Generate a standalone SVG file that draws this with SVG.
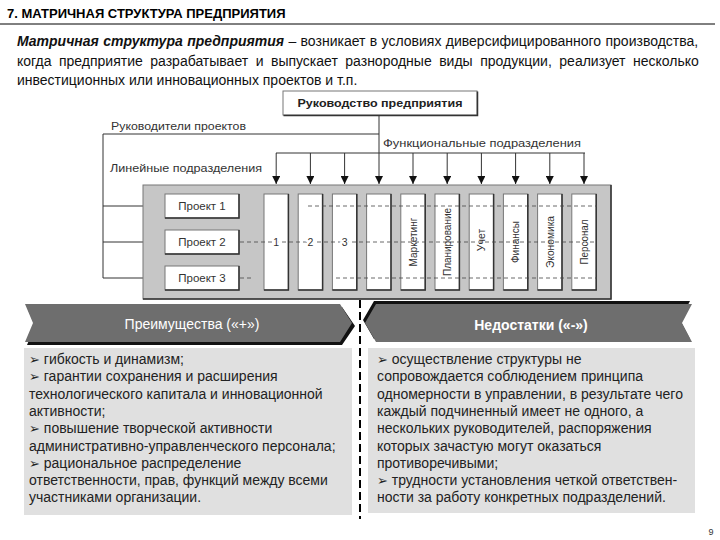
<svg xmlns="http://www.w3.org/2000/svg" width="720" height="540" viewBox="0 0 720 540">
<style>
text{font-family:"Liberation Sans",Arial,sans-serif;}
.title{font-size:13px;font-weight:bold;fill:#000;}
.para{font-size:14px;fill:#111;}
.lbl{font-size:11px;fill:#333;}
.proj{font-size:11.5px;fill:#333;}
.col{font-size:10.5px;fill:#333;}
.body{font-size:14px;fill:#222;}
.ban{font-size:14px;fill:#fff;}
.box{fill:#fff;stroke:#777;stroke-width:1;}
.shd{fill:none;stroke:#333;stroke-width:1.5;}
.ln{stroke:#333;stroke-width:1;fill:none;}
.dash{stroke:#444;stroke-width:0.8;stroke-dasharray:4 3;fill:none;}
.bul{font-family:"DejaVu Sans",sans-serif;font-size:13px;}
</style>
<defs>
<marker id="ah" markerUnits="userSpaceOnUse" markerWidth="8" markerHeight="8" refX="8" refY="4" orient="auto">
<path d="M0,0 L8,4 L0,8 Z" fill="#111"/>
</marker>
</defs>
<rect width="720" height="540" fill="#fff"/>

<g id="header">
<text class="title" x="7" y="18">7. МАТРИЧНАЯ СТРУКТУРА ПРЕДПРИЯТИЯ</text>
<line x1="0" y1="24" x2="715" y2="24" stroke="#000" stroke-width="1"/>
</g>

<g id="intro">
<text class="para" x="17" y="46" word-spacing="0.5"><tspan font-weight="bold" font-style="italic">Матричная структура предприятия</tspan> – возникает в условиях диверсифицированного производства,</text>
<text class="para" x="17" y="66" word-spacing="3.6">когда предприятие разрабатывает и выпускает разнородные виды продукции, реализует несколько</text>
<text class="para" x="17" y="85">инвестиционных или инновационных проектов и т.п.</text>
</g>

<g id="connectors">
<polyline class="ln" points="379,134 103,134 103,278"/>
<line class="ln" x1="379" y1="116" x2="379" y2="184" marker-end="url(#ah)"/>
<line class="ln" x1="276" y1="153" x2="585" y2="153"/>
<line class="ln" x1="276.2" y1="153" x2="276.2" y2="184" marker-end="url(#ah)"/>
<line class="ln" x1="310.4" y1="153" x2="310.4" y2="184" marker-end="url(#ah)"/>
<line class="ln" x1="344.6" y1="153" x2="344.6" y2="184" marker-end="url(#ah)"/>
<line class="ln" x1="413" y1="153" x2="413" y2="184" marker-end="url(#ah)"/>
<line class="ln" x1="447.2" y1="153" x2="447.2" y2="184" marker-end="url(#ah)"/>
<line class="ln" x1="481.4" y1="153" x2="481.4" y2="184" marker-end="url(#ah)"/>
<line class="ln" x1="515.6" y1="153" x2="515.6" y2="184" marker-end="url(#ah)"/>
<line class="ln" x1="549.8" y1="153" x2="549.8" y2="184" marker-end="url(#ah)"/>
<line class="ln" x1="584" y1="153" x2="584" y2="184" marker-end="url(#ah)"/>
<line class="ln" x1="103" y1="206" x2="164" y2="206" marker-end="url(#ah)"/>
<line class="ln" x1="103" y1="242" x2="164" y2="242" marker-end="url(#ah)"/>
<line class="ln" x1="103" y1="278" x2="164" y2="278" marker-end="url(#ah)"/>
</g>

<g id="top-box">
<rect class="box" x="283" y="91" width="194" height="24"/>
<polyline class="shd" points="477.5,91.5 477.5,115.5 283.5,115.5"/>
<text x="380" y="107" text-anchor="middle" font-size="11.5" font-weight="bold" fill="#222" textLength="165" lengthAdjust="spacingAndGlyphs">Руководство предприятия</text>
</g>

<g id="labels">
<text class="lbl" x="111" y="130" textLength="135" lengthAdjust="spacingAndGlyphs">Руководители проектов</text>
<text class="lbl" x="383" y="147" textLength="198" lengthAdjust="spacingAndGlyphs">Функциональные подразделения</text>
<text class="lbl" x="110" y="172" textLength="152" lengthAdjust="spacingAndGlyphs">Линейные подразделения</text>
</g>

<g id="matrix">
<rect x="143" y="185" width="468" height="114" fill="#c6c6c6" stroke="#777" stroke-width="1"/>
<polyline points="611,185 611,299 143,299" fill="none" stroke="#333" stroke-width="1.5"/>
</g>

<g id="columns">
<g id="col-1"><rect class="box" x="264" y="194" width="24.4" height="96"/><polyline class="shd" points="288.4,194 288.4,290 264,290"/></g>
<g id="col-2"><rect class="box" x="298.2" y="194" width="24.4" height="96"/><polyline class="shd" points="322.6,194 322.6,290 298.2,290"/></g>
<g id="col-3"><rect class="box" x="332.4" y="194" width="24.4" height="96"/><polyline class="shd" points="356.8,194 356.8,290 332.4,290"/></g>
<g id="col-4"><rect class="box" x="366.6" y="194" width="24.4" height="96"/><polyline class="shd" points="391,194 391,290 366.6,290"/></g>
<g id="col-5"><rect class="box" x="400.8" y="194" width="24.4" height="96"/><polyline class="shd" points="425.2,194 425.2,290 400.8,290"/></g>
<g id="col-6"><rect class="box" x="435" y="194" width="24.4" height="96"/><polyline class="shd" points="459.4,194 459.4,290 435,290"/></g>
<g id="col-7"><rect class="box" x="469.2" y="194" width="24.4" height="96"/><polyline class="shd" points="493.6,194 493.6,290 469.2,290"/></g>
<g id="col-8"><rect class="box" x="503.4" y="194" width="24.4" height="96"/><polyline class="shd" points="527.8,194 527.8,290 503.4,290"/></g>
<g id="col-9"><rect class="box" x="537.6" y="194" width="24.4" height="96"/><polyline class="shd" points="562,194 562,290 537.6,290"/></g>
<g id="col-10"><rect class="box" x="571.8" y="194" width="24.4" height="96"/><polyline class="shd" points="596.2,194 596.2,290 571.8,290"/></g>
</g>

<g id="projects">
<g id="proj-1"><rect class="box" x="165" y="194" width="74" height="24"/><polyline class="shd" points="239,194 239,218 165,218"/><text class="proj" x="202" y="210" text-anchor="middle">Проект 1</text></g>
<g id="proj-2"><rect class="box" x="165" y="230" width="74" height="24"/><polyline class="shd" points="239,230 239,254 165,254"/><text class="proj" x="202" y="246" text-anchor="middle">Проект 2</text></g>
<g id="proj-3"><rect class="box" x="165" y="266" width="74" height="24"/><polyline class="shd" points="239,266 239,290 165,290"/><text class="proj" x="202" y="282" text-anchor="middle">Проект 3</text></g>
</g>

<g id="matrix-links">
<line class="dash" x1="308" y1="206" x2="597" y2="206"/>
<line class="dash" x1="240" y1="242" x2="597" y2="242"/>
<line class="dash" x1="240" y1="278" x2="253" y2="278"/>
<line class="dash" x1="336" y1="278" x2="597" y2="278"/>
</g>

<g id="column-labels">
<text class="col" x="276.2" y="246" text-anchor="middle" font-size="11.5" stroke="#fff" stroke-width="4" paint-order="stroke">1</text>
<text class="col" x="310.4" y="246" text-anchor="middle" font-size="11.5" stroke="#fff" stroke-width="4" paint-order="stroke">2</text>
<text class="col" x="344.6" y="246" text-anchor="middle" font-size="11.5" stroke="#fff" stroke-width="4" paint-order="stroke">3</text>
<text class="col" text-anchor="middle" transform="translate(416.8,242) rotate(-90)" textLength="49" lengthAdjust="spacingAndGlyphs">Маркетинг</text>
<text class="col" text-anchor="middle" transform="translate(451,242) rotate(-90)" textLength="68" lengthAdjust="spacingAndGlyphs">Планирование</text>
<text class="col" text-anchor="middle" transform="translate(485.2,240) rotate(-90)">Учет</text>
<text class="col" text-anchor="middle" transform="translate(519.4,242) rotate(-90)" textLength="42" lengthAdjust="spacingAndGlyphs">Финансы</text>
<text class="col" text-anchor="middle" transform="translate(553.6,242) rotate(-90)" textLength="52" lengthAdjust="spacingAndGlyphs">Экономика</text>
<text class="col" text-anchor="middle" transform="translate(587.8,242) rotate(-90)" textLength="45" lengthAdjust="spacingAndGlyphs">Персонал</text>
</g>

<g id="divider">
<line x1="360" y1="300" x2="360" y2="519" stroke="#000" stroke-width="2" stroke-dasharray="8 4"/>
</g>

<g id="pros-banner">
<path d="M27,307 L342,307 L355,326 L342,345 L27,345 L35,326 Z" fill="#111"/>
<path d="M25,304 L340,304 L352,323 L340,342 L25,342 L33,323 Z" fill="#6e6e6e"/>
<text class="ban" x="192" y="329" text-anchor="middle">Преимущества («+»)</text>
</g>

<g id="cons-banner">
<path d="M374,301 L690,301 L680,320 L690,339 L374,339 L363,320 Z" fill="#111"/>
<path d="M376,304 L692,304 L682,323 L692,342 L376,342 L365,323 Z" fill="#6e6e6e"/>
<text class="ban" x="531" y="330" text-anchor="middle" font-weight="bold">Недостатки («-»)</text>
</g>

<g id="pros-box">
<rect x="24" y="348" width="328" height="167" fill="#e0e0e0"/>
<text class="body" x="29" y="364"><tspan class="bul">➢</tspan> гибкость и динамизм;</text>
<text class="body" x="29" y="381.3"><tspan class="bul">➢</tspan> гарантии сохранения и расширения</text>
<text class="body" x="29" y="398.6">технологического капитала и инновационной</text>
<text class="body" x="29" y="415.9">активности;</text>
<text class="body" x="29" y="433.2"><tspan class="bul">➢</tspan> повышение творческой активности</text>
<text class="body" x="29" y="450.5">административно-управленческого персонала;</text>
<text class="body" x="29" y="467.8"><tspan class="bul">➢</tspan> рациональное распределение</text>
<text class="body" x="29" y="485.1">ответственности, прав, функций между всеми</text>
<text class="body" x="29" y="502.4">участниками организации.</text>
</g>

<g id="cons-box">
<rect x="368" y="348" width="327" height="165" fill="#e0e0e0"/>
<text class="body" x="377" y="364"><tspan class="bul">➢</tspan> осуществление структуры не</text>
<text class="body" x="377" y="381.3">сопровождается соблюдением принципа</text>
<text class="body" x="377" y="398.6">одномерности в управлении, в результате чего</text>
<text class="body" x="377" y="415.9">каждый подчиненный имеет не одного, а</text>
<text class="body" x="377" y="433.2">нескольких руководителей, распоряжения</text>
<text class="body" x="377" y="450.5">которых зачастую могут оказаться</text>
<text class="body" x="377" y="467.8">противоречивыми;</text>
<text class="body" x="377" y="485.1"><tspan class="bul">➢</tspan> трудности установления четкой ответствен-</text>
<text class="body" x="377" y="502.4">ности за работу конкретных подразделений.</text>
</g>

<g id="page-number">
<text x="711" y="535" text-anchor="middle" font-size="9" fill="#333">9</text>
</g>
</svg>
